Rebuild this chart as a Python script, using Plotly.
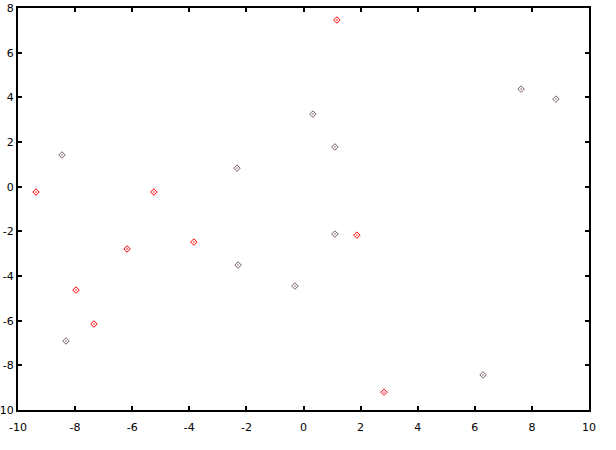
import plotly.graph_objects as go

red_x = [-9.37, 1.17, -5.24, -6.18, -3.84, -7.97, -7.34, 1.87, 2.82]
red_y = [-0.24, 7.46, -0.24, -2.79, -2.48, -4.63, -6.15, -2.17, -9.20]

grey_x = [-8.46, -2.33, 0.33, 1.10, 7.62, 8.84, -2.29, 1.10, -0.30, -8.32, 6.29]
grey_y = [1.42, 0.83, 3.25, 1.78, 4.37, 3.92, -3.51, -2.12, -4.45, -6.91, -8.43]

x_ticks = list(range(-10, 11, 2))
y_ticks = list(range(-10, 9, 2))

fig = go.Figure()
fig.add_trace(go.Scatter(x=red_x, y=red_y, mode="markers",
                         marker=dict(symbol="diamond-dot", size=5, color="rgba(0,0,0,0)",
                                     line=dict(color="#ff0000", width=1))))
fig.add_trace(go.Scatter(x=grey_x, y=grey_y, mode="markers",
                         marker=dict(symbol="diamond-dot", size=5, color="rgba(0,0,0,0)",
                                     line=dict(color="#7a6060", width=1))))

axis_common = dict(showline=True, linecolor="black", linewidth=2, mirror="ticks",
                   ticks="inside", ticklen=4, tickwidth=2, tickcolor="black",
                   showgrid=False, zeroline=False, automargin=False,
                   tickfont=dict(family="DejaVu Sans", size=11, color="black"))

fig.update_xaxes(range=[-10, 10], tickvals=x_ticks,
                 ticktext=[str(v) for v in x_ticks], ticklabelstandoff=6, **axis_common)
fig.update_yaxes(range=[-10, 8], tickvals=y_ticks,
                 ticktext=[str(v) for v in y_ticks], **axis_common)

fig.update_layout(width=616, height=450, showlegend=False,
                  plot_bgcolor="white", paper_bgcolor="white",
                  margin=dict(l=18, r=27, t=8, b=40))

fig.write_html("out.html", config={"displayModeBar": False},
               post_script="document.body.style.margin='0';")
